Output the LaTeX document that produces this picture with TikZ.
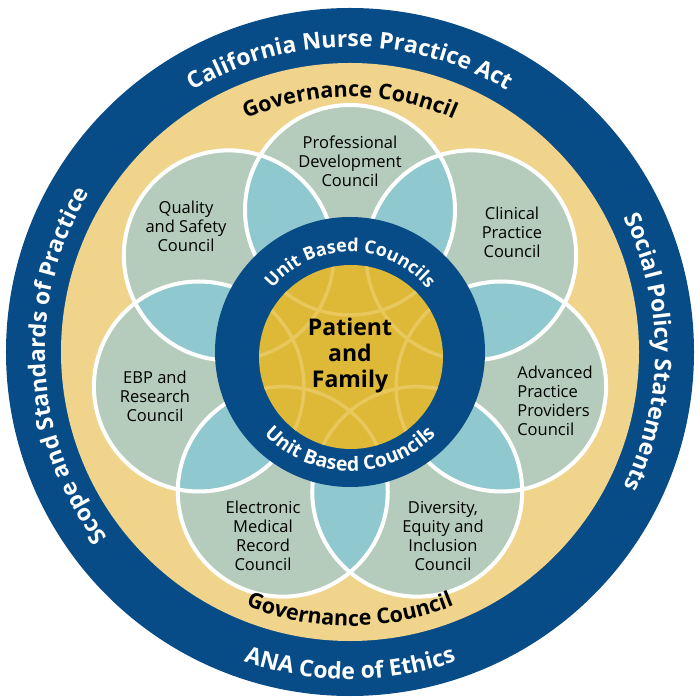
\documentclass[tikz,border=0pt]{standalone}
\usepackage{fontspec}
\setmainfont{Open Sans}
\usetikzlibrary{decorations.text}

\definecolor{navy}{RGB}{7,75,135}
\definecolor{tan}{RGB}{240,212,140}
\definecolor{sage}{RGB}{181,204,188}
\definecolor{lens}{RGB}{143,200,206}
\definecolor{gold}{RGB}{222,185,56}
\definecolor{goldline}{RGB}{232,199,92}

\newcommand{\ringfont}{\fontsize{23}{23}\selectfont\bfseries\color{white}}
\newcommand{\govfont}{\fontsize{21.5}{21.5}\selectfont\bfseries\color{black}}
\newcommand{\unitfont}{\fontsize{18}{18}\selectfont\bfseries\color{white}}
\newcommand{\unitfontb}{\fontsize{19.5}{19.5}\selectfont\bfseries\color{white}}

\begin{document}
\begin{tikzpicture}[x=1pt,y=1pt,
    council/.style={align=center, font=\fontsize{16.5}{19}\selectfont, text=black},
    arctext/.style={decorate, decoration={text along path, text align=center, text={#1}}}]

    \useasboundingbox (-350,-348) rectangle (350,352);

    % outer rings
    \fill[navy] (0,0) circle (344);
    \fill[tan]  (0,0) circle (289);

    % petal centres
    \coordinate (pd) at (90:142);
    \coordinate (cp) at (38.57:155);
    \coordinate (ap) at (-12.86:155);
    \coordinate (de) at (-64.29:155);
    \coordinate (em) at (-115.71:155);
    \coordinate (eb) at (-167.14:155);
    \coordinate (qs) at (141.43:155);

    \foreach \c in {pd,cp,ap,de,em,eb,qs}
      \fill[sage] (\c) circle (105);
    \foreach \a/\b in {pd/cp,cp/ap,ap/de,de/em,em/eb,eb/qs,qs/pd}{
      \begin{scope}
        \clip (\a) circle (105);
        \fill[lens] (\b) circle (105);
      \end{scope}}
    \foreach \c in {pd,cp,ap,de,em,eb,qs}
      \draw[white, line width=4] (\c) circle (105);

    % centre
    \fill[navy] (0,0) circle (135);
    \fill[gold] (1,-5) circle (92);
    \begin{scope}
      \clip (1,-5) circle (92);
      \foreach \c in {pd,cp,ap,de,em,eb,qs}
        \draw[goldline, line width=3.5] (\c) circle (105);
    \end{scope}

    % council labels
    \node[council] (pdl) at (0,191)     {Professional\\Development\\Council};
    \node[council] (cpl) at (162,120)   {Clinical\\Practice\\Council};
    \node[council, align=left] (apl) at (205,-49) {Advanced\\Practice\\Providers\\Council};
    \node[council] (del) at (93,-184)   {Diversity,\\Equity and\\Inclusion\\Council};
    \node[council] (eml) at (-87,-184)  {Electronic\\Medical\\Record\\Council};
    \node[council] (ebl) at (-195,-44)  {EBP and\\Research\\Council};
    \node[council] (qsl) at (-164,126)  {Quality\\and Safety\\Council};

    \node[align=center, font=\fontsize{23}{26}\selectfont\bfseries] (pf) at (0,-4) {Patient\\and\\Family};

    % ring texts
    \path[arctext={|\ringfont|California Nurse Practice Act}]
      (160:305) arc[start angle=160, end angle=20, radius=305];
    \path[arctext={|\ringfont|Social Policy Statements}]
      (70:305) arc[start angle=70, end angle=-70, radius=305];
    \path[arctext={|\ringfont|Scope and Standards of Practice}]
      (253:305) arc[start angle=253, end angle=113, radius=305];
    \path[arctext={|\ringfont|ANA Code of Ethics}]
      (200:327) arc[start angle=200, end angle=340, radius=327];

    \path[arctext={|\govfont|Governance Council}]
      (170:255) arc[start angle=170, end angle=10, radius=255];
    \path[arctext={|\govfont|Governance Council}]
      (190:274) arc[start angle=190, end angle=350, radius=274];

    \path[arctext={|\unitfont|Unit Based Councils}]
      (175:100) arc[start angle=175, end angle=5, radius=100];
    \path[arctext={|\unitfontb|Unit Based Councils}]
      (185:119) arc[start angle=185, end angle=355, radius=119];
\end{tikzpicture}
\end{document}
